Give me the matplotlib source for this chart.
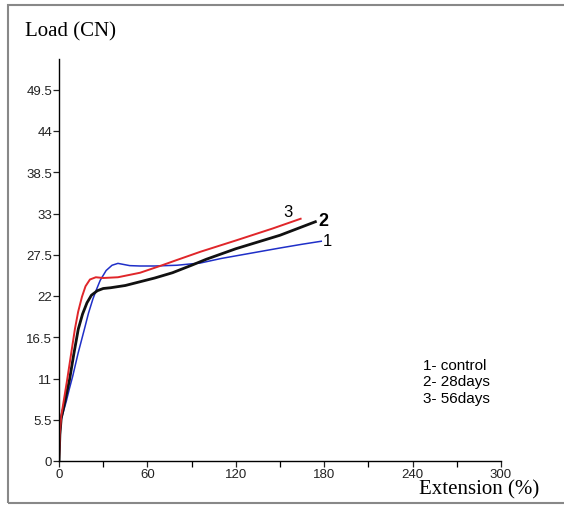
import numpy as np
import matplotlib.pyplot as plt
from matplotlib.patches import Rectangle

# data (extension %, load CN)
ext_control = [0, 0.8, 1.5, 3, 5, 7, 9.3, 13, 17.4, 20, 23, 25.5, 28, 32, 36, 40, 44, 48, 55, 65, 80, 96, 110, 130, 150, 165, 178]
load_control = [0, 4.0, 5.5, 6.6, 8.0, 9.6, 11.3, 14.4, 17.7, 19.7, 21.6, 22.9, 24.1, 25.4, 26.1, 26.35, 26.2, 26.05, 26.0, 26.0, 26.1, 26.4, 27.0, 27.7, 28.4, 28.9, 29.3]

ext_28d = [0, 0.6, 1.5, 3, 7.2, 10, 13.1, 16, 19, 22, 26, 30, 35, 45, 55, 65, 77, 90, 100, 120, 150, 174]
load_28d = [0, 3.5, 5.7, 7.0, 10.9, 14.2, 17.6, 19.6, 21.1, 22.1, 22.7, 23.0, 23.1, 23.4, 23.9, 24.4, 25.1, 26.1, 26.9, 28.3, 30.1, 31.9]

ext_56d = [0, 0.5, 1.5, 2.7, 5.6, 8, 10.8, 13, 15.6, 18, 21, 25, 30, 40, 55, 70, 80, 96, 120, 145, 164]
load_56d = [0, 3.5, 6.0, 7.4, 10.9, 14.0, 17.6, 19.9, 21.9, 23.3, 24.2, 24.5, 24.4, 24.5, 25.1, 26.1, 26.8, 27.9, 29.4, 31.0, 32.3]

x_ticks = [0, 60, 120, 180, 240, 300]
y_ticks = [0, 5.5, 11, 16.5, 22, 27.5, 33, 38.5, 44, 49.5]
legend_lines = ['1- control', '2- 28days', '3- 56days']

plt.rcParams['font.family'] = ['Liberation Sans', 'DejaVu Sans']

fig = plt.figure(figsize=(5.64, 5.06), dpi=100)
ax = fig.add_axes([59 / 564, 1 - 462 / 506, 442 / 564, 402 / 506])

ax.plot(ext_control, load_control, color='#1f2fc8', lw=1.1)
ax.plot(ext_28d, load_28d, color='#111111', lw=2.0)
ax.plot(ext_56d, load_56d, color='#e0262a', lw=1.4)

ax.set_xlim(0, 300)
ax.set_ylim(0, 53.6)
ax.spines['top'].set_visible(False)
ax.spines['right'].set_visible(False)
ax.spines['left'].set_linewidth(1.0)
ax.spines['bottom'].set_linewidth(1.0)
ax.set_xticks(x_ticks)
ax.set_xticks(np.arange(0, 301, 30), minor=True)
ax.set_yticks(y_ticks)
ax.set_yticklabels([('%g' % v) for v in y_ticks])
ax.tick_params(axis='both', labelsize=9.5, colors='#222222', length=4, width=0.9, pad=1)
ax.tick_params(axis='x', which='minor', length=4, width=0.9)

# curve labels
ax.text(179, 29.4, '1', fontsize=12, va='center', ha='left')
ax.text(176, 32.1, '2', fontsize=13, fontweight='bold', va='center', ha='left')
ax.text(152, 33.3, '3', fontsize=12, va='center', ha='left')

# legend text block
ax.text(247, 10.6, '\n'.join(legend_lines), fontsize=11, va='center', ha='left',
        linespacing=1.2)

fig.text(25 / 564, 1 - 32 / 506, 'Load (CN)', family='Liberation Serif',
         fontsize=15, va='center', ha='left')
fig.text(419 / 564, 1 - 490 / 506, 'Extension (%)', family='Liberation Serif',
         fontsize=15, va='center', ha='left')

# grey picture frame
fig.patches.append(Rectangle((8 / 564, 1 - 504 / 506), 560 / 564, 498 / 506,
                             transform=fig.transFigure, fill=False,
                             edgecolor='#888888', lw=1.5))

fig.savefig('out.png', dpi=100)
